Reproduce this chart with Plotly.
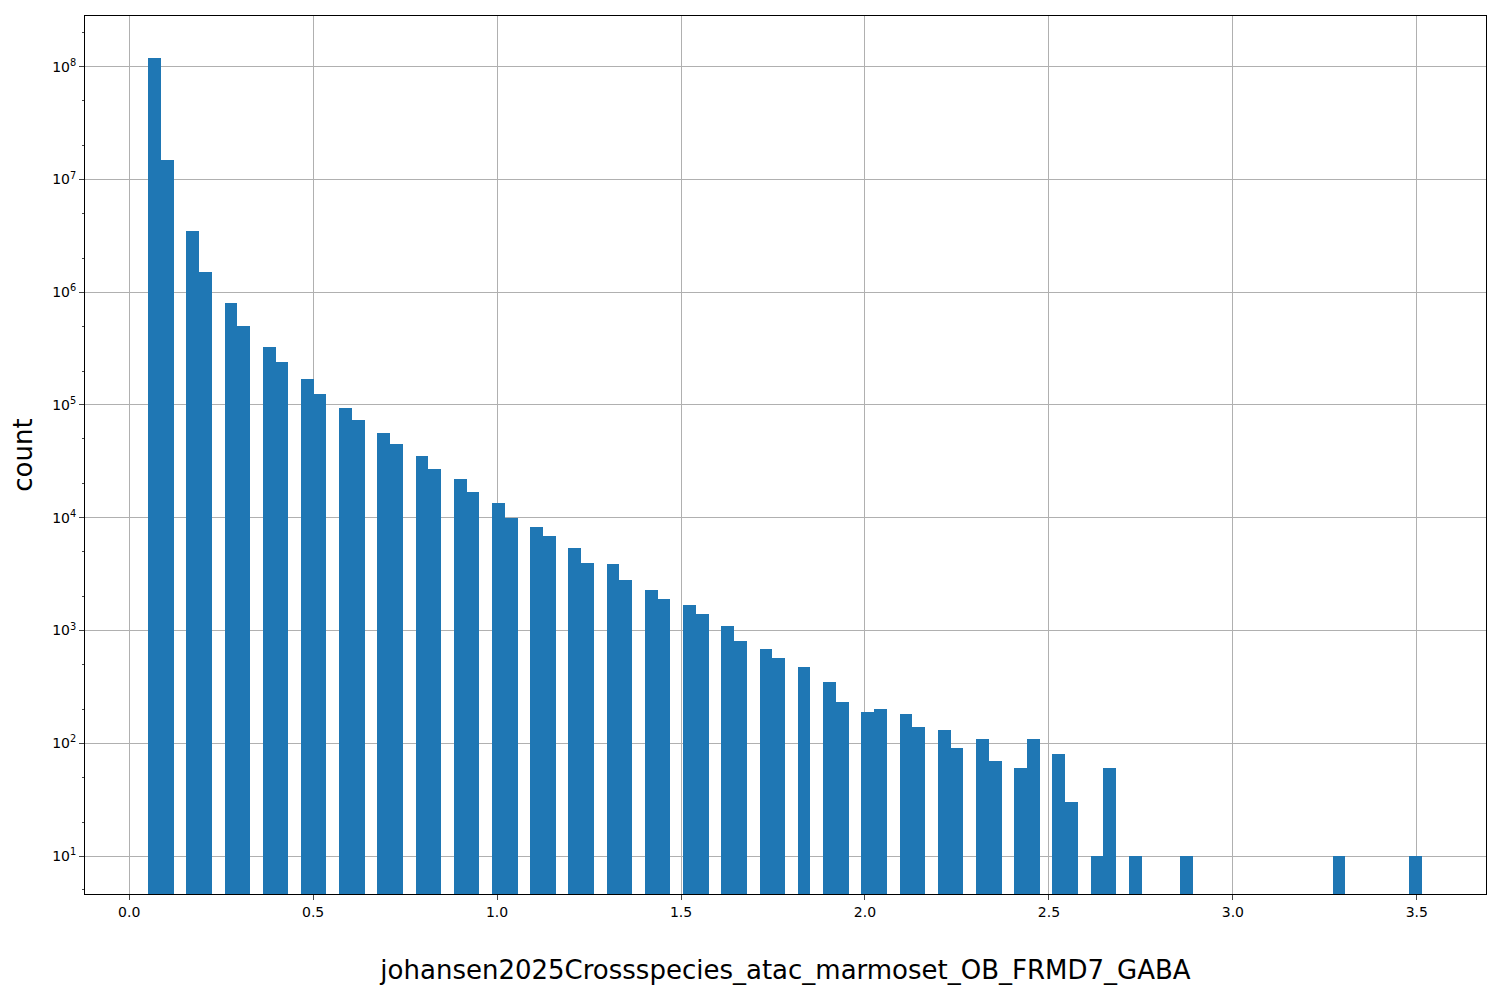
import plotly.graph_objects as go

# histogram: 100 bins from min to max
x_min = 0.0516
bin_w = 0.03462

bin_idx = [0, 1, 3, 4, 6, 7, 9, 10, 12, 13, 15, 16, 18, 19, 21, 22, 24, 25, 27, 28,
           30, 31, 33, 34, 36, 37, 39, 40, 42, 43, 45, 46, 48, 49, 51, 53, 54, 56, 57,
           59, 60, 62, 63, 65, 66, 68, 69, 71, 72, 74, 75, 77, 81, 93, 99]
counts = [1.2e8, 1.5e7, 3.5e6, 1.5e6, 8e5, 5e5, 3.3e5, 2.4e5, 1.7e5, 1.25e5,
          9.5e4, 7.3e4, 5.7e4, 4.5e4, 3.5e4, 2.7e4, 2.2e4, 1.7e4, 1.35e4, 1.0e4,
          8.3e3, 6.9e3, 5.4e3, 4.0e3, 3.9e3, 2.8e3, 2.3e3, 1.9e3, 1.7e3, 1.4e3,
          1.1e3, 800, 680, 570, 470, 350, 230, 190, 200,
          180, 140, 130, 90, 110, 70, 60, 110, 80, 30, 10, 60, 10, 10, 10, 10]

centers = [x_min + (i + 0.5) * bin_w for i in bin_idx]

fig = go.Figure(go.Bar(x=centers, y=counts, width=bin_w, marker_color="#1f77b4",
                       marker_line_width=0))

decades = [1, 2, 3, 4, 5, 6, 7, 8]
fig.update_layout(
    width=1500, height=1000,
    plot_bgcolor="white", paper_bgcolor="white",
    margin=dict(l=77, r=22, t=8, b=114, autoexpand=False),
    font=dict(family="DejaVu Sans", size=14, color="black"),
    showlegend=False,
    bargap=0,
    xaxis=dict(
        range=[-0.12, 3.688], tickvals=[0, 0.5, 1, 1.5, 2, 2.5, 3, 3.5],
        ticktext=["0.0", "0.5", "1.0", "1.5", "2.0", "2.5", "3.0", "3.5"],
        showgrid=True, gridcolor="#b0b0b0", zeroline=False, automargin=False,
        showline=True, linecolor="black", mirror=True, ticks="outside",
        title=dict(text="johansen2025Crossspecies_atac_marmoset_OB_FRMD7_GABA",
                   font=dict(size=26), standoff=42),
    ),
    yaxis=dict(
        type="log", range=[0.663, 8.45], automargin=False,
        tickvals=[10 ** d for d in decades],
        ticktext=[f"10<sup>{d}</sup>" for d in decades],
        showgrid=True, gridcolor="#b0b0b0", zeroline=False,
        showline=True, linecolor="black", mirror=True, ticks="outside",
        minor=dict(ticks="outside", ticklen=2, showgrid=False),
        title=dict(text="count", font=dict(size=26), standoff=12),
    ),
)

fig.write_html("out.html")
